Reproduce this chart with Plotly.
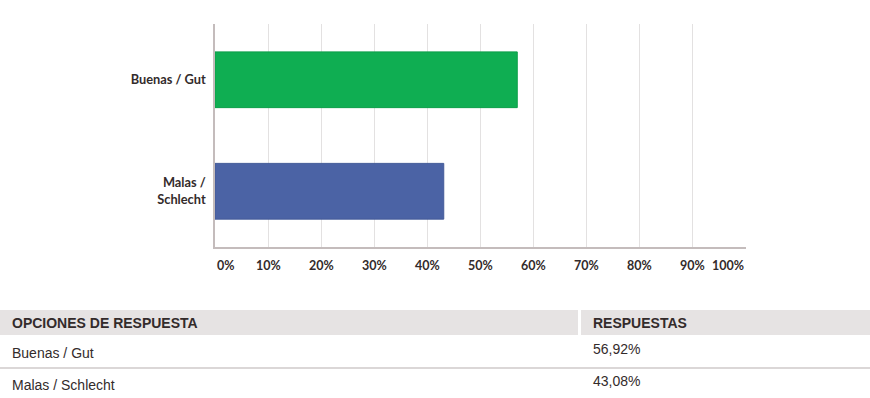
import plotly.graph_objects as go

categories = ["Buenas / Gut", "Malas / Schlecht"]
category_labels = ["Buenas / Gut", "Malas /<br>Schlecht"]
values = [56.92, 43.08]
value_labels = ["56,92%", "43,08%"]
bar_colors = ["#0fae52", "#4b63a5"]
tick_vals = [0, 10, 20, 30, 40, 50, 60, 70, 80, 90, 100]
tick_labels = ["0%", "10%", "20%", "30%", "40%", "50%", "60%", "70%", "80%", "90%", "100%"]
header_labels = ["OPCIONES DE RESPUESTA", "RESPUESTAS"]

W, H = 870, 398
L, R, T, B = 215, 746, 24, 247
PW, PH = R - L, B - T

def px_x(x):
    return (x - L) / PW

def px_y(y):
    return (B - y) / PH

TXT = "#332b2b"
CHART_FONT = "Lato"
TABLE_FONT = "Liberation Sans"

fig = go.Figure()
fig.add_trace(go.Bar(
    y=categories, x=values, orientation="h",
    marker=dict(color=bar_colors, line=dict(color=["#0c9e49", "#435a98"], width=1)),
    width=0.5, hoverinfo="skip",
))

annotations = []
for v, t in zip(tick_vals, tick_labels):
    anchor = "left" if v == tick_vals[0] else ("right" if v == tick_vals[-1] else "center")
    annotations.append(dict(
        x=v, xref="x", y=px_y(265), yref="paper", text=t, showarrow=False,
        xanchor=anchor, yanchor="middle",
        font=dict(family=CHART_FONT, size=12.5, color=TXT, weight="bold"),
    ))

shapes = []
# table header band
shapes.append(dict(type="rect", xref="paper", yref="paper",
                   x0=px_x(0), x1=px_x(870), y0=px_y(310), y1=px_y(335),
                   fillcolor="#e6e3e3", line=dict(width=0), layer="below"))
shapes.append(dict(type="rect", xref="paper", yref="paper",
                   x0=px_x(578), x1=px_x(581), y0=px_y(310), y1=px_y(335),
                   fillcolor="#ffffff", line=dict(width=0), layer="below"))
shapes.append(dict(type="line", xref="paper", yref="paper",
                   x0=px_x(0), x1=px_x(870), y0=px_y(368), y1=px_y(368),
                   line=dict(color="#cfcaca", width=1.5)))

header_x = [10, 591]
for hx, ht in zip(header_x, header_labels):
    annotations.append(dict(
        x=px_x(hx), xref="paper", y=px_y(323), yref="paper", text=ht,
        showarrow=False, xanchor="left", yanchor="middle",
        font=dict(family=TABLE_FONT, size=14, color=TXT, weight="bold"),
    ))

row_y = [353, 385]
val_y = [349, 381]
for i, (c, vl) in enumerate(zip(categories, value_labels)):
    annotations.append(dict(
        x=px_x(10), xref="paper", y=px_y(row_y[i]), yref="paper", text=c,
        showarrow=False, xanchor="left", yanchor="middle",
        font=dict(family=TABLE_FONT, size=14, color=TXT),
    ))
    annotations.append(dict(
        x=px_x(591), xref="paper", y=px_y(val_y[i]), yref="paper", text=vl,
        showarrow=False, xanchor="left", yanchor="middle",
        font=dict(family=TABLE_FONT, size=14, color=TXT),
    ))

fig.update_layout(
    width=W, height=H,
    margin=dict(l=L, r=W - R, t=T, b=H - B, pad=0),
    paper_bgcolor="#ffffff", plot_bgcolor="#ffffff",
    showlegend=False,
    xaxis=dict(range=[0, 100], tickvals=tick_vals, showticklabels=False,
               showgrid=True, gridcolor="#e3e1e1", gridwidth=1,
               zeroline=False, showline=True, linecolor="#c4bcbc", linewidth=1.5,
               fixedrange=True),
    yaxis=dict(categoryorder="array", categoryarray=categories[::-1],
               range=[-0.5, 1.5], tickvals=categories, ticktext=category_labels,
               showgrid=False, zeroline=False, showline=True, linecolor="#c4bcbc",
               linewidth=1.5, ticks="", ticklabelstandoff=5,
               tickfont=dict(family=CHART_FONT, size=12.8, color=TXT, weight="bold"),
               fixedrange=True),
    annotations=annotations,
    shapes=shapes,
)

fig.write_html(
    "out.html",
    config={"displayModeBar": False},
    post_script="document.body.style.margin='0';document.body.style.overflow='hidden';",
)
